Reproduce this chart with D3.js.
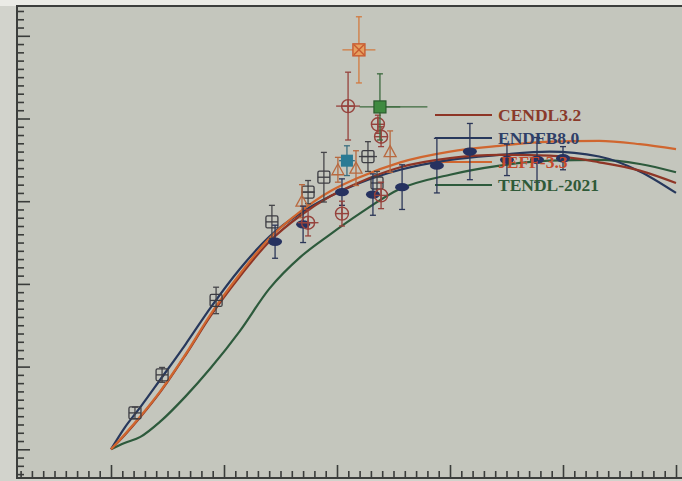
<!DOCTYPE html>
<html>
<head>
<meta charset="utf-8">
<script src="https://cdn.jsdelivr.net/npm/d3@7"></script>
<style>
  html, body { margin: 0; padding: 0; background: #d2d3cc; }
  svg { display: block; }
</style>
</head>
<body>
<svg id="chart" width="682" height="481"></svg>
<script>
// Evaluated cross sections (mb) on a common energy grid (MeV)
const energy    = [10, 10.6, 11.3, 12.2, 13.3, 14.4, 15.7, 17, 18.4, 19.7, 21, 22.8, 25, 27.2, 29.4, 31.6, 33.4, 35];
const cendl32   = [0, 17, 39, 70, 114, 161, 209, 251, 283, 306, 323, 341, 352, 356, 355, 347, 337, 322];
const endfb80   = [0, 26, 51, 85, 127, 171, 218, 257, 286, 306, 322, 338, 350, 356, 360, 354, 336, 310];
const jeff33    = [0, 18, 40, 71, 115, 163, 212, 255, 288, 312, 329, 347, 360, 367, 372, 373, 369, 363];
const tendl2021 = [0, 7.6, 15, 34, 64, 98, 143, 194, 233, 260, 285, 315, 332, 343, 349, 350, 345, 335];

// Measurements: [E, sigma, dSigma, dE]
const openSquares = [[11.06, 44, 7, 0], [12.26, 90, 9, 0], [14.65, 180, 16, 0], [17.12, 275, 20, 0],
                     [18.72, 311, 14, 0.3], [19.42, 329, 30, 0], [21.37, 354, 18, 0.4], [21.77, 322, 14, 0]];
const openCircles = [[18.72, 274, 16, 0.46], [20.22, 285, 15, 0], [20.49, 415, 41, 0.53],
                     [21.81, 393, 11, 0], [21.95, 378, 12, 0], [21.95, 307, 16, 0]];
const navyDots    = [[17.26, 251, 20, 0], [18.5, 272, 22, 0], [20.22, 311, 16, 0], [21.59, 308, 25, 0],
                     [22.88, 317, 27, 0], [24.42, 343, 33, 0], [25.88, 360, 34, 0], [27.52, 350, 19, 0],
                     [28.85, 350, 27, 0], [30.0, 352, 14, 0]];
const triangles   = [[18.45, 300, 20, 0], [20.04, 338, 15, 0], [20.84, 340, 21, 0], [22.35, 360, 25, 0]];
const crossBoxes  = [[20.97, 483, 40, 0.73]];
const tealBoxes   = [[20.44, 349, 18, 0.35]];
const greenBoxes  = [[21.9, 414, 40, 0.9]];

const legendNames = ["CENDL3.2", "ENDFB8.0", "JEFF-3.3", "TENDL-2021"];

const svg = d3.select("#chart");
const W = 682, H = 481;
const frame = { left: 17, top: 6, right: 683, bottom: 478 };

const x = d3.scaleLinear().domain([10, 35]).range([111, 676]);
const y = d3.scaleLinear().domain([0, 500]).range([449.3, 35.8]);

// page strips
svg.append("rect").attr("x", 0).attr("y", 0).attr("width", W).attr("height", frame.top).attr("fill", "#ebebe6");
svg.append("rect").attr("x", frame.left).attr("y", frame.top)
  .attr("width", frame.right - frame.left).attr("height", frame.bottom - frame.top)
  .attr("fill", "#c4c6bd");

// inward ticks
const xMinor = d3.range(6, 35.01, 0.5).filter(v => Math.abs(v % 5) > 1e-6);
const xMajor = d3.range(10, 35.01, 5);
const yMinor = d3.range(-30, 531, 10).filter(v => v % 100 !== 0);
const yMajor = d3.range(0, 501, 100);

const tickCol = "#3a3c3a";
function styleAxis(g) {
  g.select(".domain").remove();
  g.selectAll(".tick line").attr("stroke", tickCol).attr("stroke-width", 1.6);
  g.selectAll(".tick text").remove();
}
svg.append("g").attr("transform", `translate(0,${frame.bottom})`)
  .call(d3.axisBottom(x).tickValues(xMinor).tickSize(-7).tickFormat("")).call(styleAxis);
svg.append("g").attr("transform", `translate(0,${frame.bottom})`)
  .call(d3.axisBottom(x).tickValues(xMajor).tickSize(-13).tickFormat("")).call(styleAxis);
svg.append("g").attr("transform", `translate(${frame.left},0)`)
  .call(d3.axisLeft(y).tickValues(yMinor).tickSize(-7).tickFormat("")).call(styleAxis);
svg.append("g").attr("transform", `translate(${frame.left},0)`)
  .call(d3.axisLeft(y).tickValues(yMajor).tickSize(-13).tickFormat("")).call(styleAxis);

// frame
svg.append("path")
  .attr("d", `M${frame.right},${frame.top}H${frame.left}V${frame.bottom}H${frame.right}`)
  .attr("fill", "none").attr("stroke", "#3c3e3c").attr("stroke-width", 2);

const colors = { cendl: "#8e3526", endfb: "#27385c", jeff: "#d0662f", tendl: "#2d5a3c" };
const legendCols = [colors.cendl, colors.endfb, colors.jeff, colors.tendl];
const legendText = ["#8a3a2a", "#2f3f68", "#c44a2c", "#2f5a38"];
const legendY = [115, 138, 162, 185];

// legend sample lines
legendNames.forEach((name, i) => {
  svg.append("line").attr("x1", 435).attr("x2", 492).attr("y1", legendY[i]).attr("y2", legendY[i])
    .attr("stroke", legendCols[i]).attr("stroke-width", 2.2);
});

// evaluation curves
const line = d3.line().x(d => x(d[0])).y(d => y(d[1])).curve(d3.curveMonotoneX);
const series = [
  { v: tendl2021, c: colors.tendl },
  { v: endfb80, c: colors.endfb },
  { v: cendl32, c: colors.cendl },
  { v: jeff33, c: colors.jeff }
];
series.forEach(s => {
  svg.append("path").datum(energy.map((e, i) => [e, s.v[i]]))
    .attr("d", line).attr("fill", "none").attr("stroke", s.c).attr("stroke-width", 2.2);
});

// error bars
function errorBars(data, col) {
  const g = svg.append("g").attr("stroke", col).attr("stroke-width", 1.3).attr("fill", "none");
  data.forEach(d => {
    const cx = x(d[0]), y0 = y(d[1] - d[2]), y1 = y(d[1] + d[2]);
    g.append("line").attr("x1", cx).attr("x2", cx).attr("y1", y0).attr("y2", y1);
    g.append("line").attr("x1", cx - 3).attr("x2", cx + 3).attr("y1", y0).attr("y2", y0);
    g.append("line").attr("x1", cx - 3).attr("x2", cx + 3).attr("y1", y1).attr("y2", y1);
    if (d[3] > 0) {
      const xa = x(d[0] - d[3]), xb = x(d[0] + d[3]), cy = y(d[1]);
      g.append("line").attr("x1", xa).attr("x2", xb).attr("y1", cy).attr("y2", cy);
    }
  });
}

// open squares with cross
errorBars(openSquares, "#46464a");
openSquares.forEach(d => {
  const cx = x(d[0]), cy = y(d[1]);
  const g = svg.append("g").attr("stroke", "#3c3c42").attr("stroke-width", 1.3).attr("fill", "none");
  g.append("rect").attr("x", cx - 6).attr("y", cy - 6).attr("width", 12).attr("height", 12).attr("rx", 1.5);
  g.append("line").attr("x1", cx - 6).attr("x2", cx + 6).attr("y1", cy).attr("y2", cy);
});

// triangles
errorBars(triangles, "#b8693f");
triangles.forEach(d => {
  const cx = x(d[0]), cy = y(d[1]);
  svg.append("path").attr("d", `M${cx},${cy - 6}L${cx + 6},${cy + 5}L${cx - 6},${cy + 5}Z`)
    .attr("fill", "none").attr("stroke", "#b8693f").attr("stroke-width", 1.3);
});

// navy filled ellipses
errorBars(navyDots, "#2b3658");
navyDots.forEach(d => {
  svg.append("ellipse").attr("cx", x(d[0])).attr("cy", y(d[1])).attr("rx", 7).attr("ry", 4.2)
    .attr("fill", "#263260");
});

// open circles with cross
errorBars(openCircles, "#96423c");
openCircles.forEach(d => {
  const cx = x(d[0]), cy = y(d[1]);
  const g = svg.append("g").attr("stroke", "#96423c").attr("stroke-width", 1.4).attr("fill", "none");
  g.append("circle").attr("cx", cx).attr("cy", cy).attr("r", 6.5);
  g.append("line").attr("x1", cx - 6.5).attr("x2", cx + 6.5).attr("y1", cy).attr("y2", cy);
  g.append("line").attr("x1", cx).attr("x2", cx).attr("y1", cy - 6.5).attr("y2", cy + 6.5);
});

// teal filled square
errorBars(tealBoxes, "#3b6f80");
tealBoxes.forEach(d => {
  svg.append("rect").attr("x", x(d[0]) - 6).attr("y", y(d[1]) - 6).attr("width", 12).attr("height", 12)
    .attr("fill", "#2a7a94");
});

// green filled square
errorBars(greenBoxes, "#3c6a3e");
greenBoxes.forEach(d => {
  const cx = x(d[0]), cy = y(d[1]);
  svg.append("line").attr("x1", cx).attr("x2", x(d[0] + 2.1)).attr("y1", cy).attr("y2", cy)
    .attr("stroke", "#3c6a3e").attr("stroke-width", 1.3);
  svg.append("rect").attr("x", cx - 6).attr("y", cy - 6).attr("width", 12).attr("height", 12)
    .attr("fill", "#3f8a40").attr("stroke", "#2a5a2c").attr("stroke-width", 1.2);
});

// orange square with diagonal cross
errorBars(crossBoxes, "#d27a40");
crossBoxes.forEach(d => {
  const cx = x(d[0]), cy = y(d[1]);
  const g = svg.append("g").attr("stroke", "#c85a30").attr("stroke-width", 1.4);
  g.append("rect").attr("x", cx - 6).attr("y", cy - 6).attr("width", 12).attr("height", 12)
    .attr("fill", "#e6a060");
  g.append("line").attr("x1", cx - 5).attr("x2", cx + 5).attr("y1", cy - 5).attr("y2", cy + 5);
  g.append("line").attr("x1", cx - 5).attr("x2", cx + 5).attr("y1", cy + 5).attr("y2", cy - 5);
});

// legend labels
legendNames.forEach((name, i) => {
  svg.append("text").attr("x", 498).attr("y", legendY[i] + 6)
    .attr("font-family", "'Liberation Serif', 'Times New Roman', serif")
    .attr("font-weight", "bold").attr("font-size", 17.5)
    .attr("fill", legendText[i]).text(name);
});
</script>
</body>
</html>
